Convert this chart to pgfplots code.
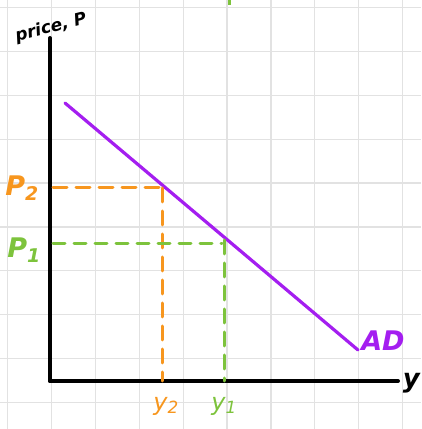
\documentclass[border=0pt]{standalone}
\usepackage{pgfplots}
\pgfplotsset{compat=1.18}
\usepackage{fontspec}
\setmainfont{DejaVu Sans}
\definecolor{adpurple}{HTML}{A41EF0}
\definecolor{ordash}{HTML}{F7961E}
\definecolor{grdash}{HTML}{7DC33C}
\definecolor{gridgray}{HTML}{E2E2E2}
\begin{document}
\begin{tikzpicture}
\begin{axis}[
  scale only axis, width=421pt, height=429pt,
  xmin=0, xmax=421, ymin=0, ymax=429,
  axis line style={draw=none},
  xtick={7.5,51.4,95.3,139.2,183.1,227,270.9,314.8,358.7,402.6},
  ytick={26.4,70.3,114.2,158.1,202,245.9,289.8,333.7,377.6,421.5},
  xticklabels={}, yticklabels={},
  major tick length=0pt,
  grid=major, grid style={gridgray, line width=1.2pt},
  clip=false,
]
% axes
\addplot[black, line width=4pt, line cap=round] coordinates {(50,391) (50,48)};
\addplot[black, line width=4pt, line cap=round] coordinates {(50,48) (398,48)};
% AD curve
\addplot[adpurple, line width=3.2pt, line cap=round] coordinates {(65,326) (358,79)};
% orange
\addplot[ordash, line width=3pt, line cap=round, dash pattern=on 14pt off 9pt] coordinates {(53,241) (163,241)};
\addplot[ordash, line width=3pt, line cap=round, dash pattern=on 14pt off 9pt] coordinates {(162,241) (162,48)};
% green
\addplot[grdash, line width=3pt, line cap=round, dash pattern=on 12pt off 9pt] coordinates {(53,185) (222,185)};
\addplot[grdash, line width=3pt, line cap=round, dash pattern=on 14pt off 9pt] coordinates {(224,189) (224,48)};
\addplot[grdash, line width=3pt] coordinates {(229,429) (229,424)};
% labels
\node[rotate=14, font=\fontsize{17}{17}\selectfont\bfseries\itshape] at (axis cs:51,401) {price, P};
\node[ordash, font=\fontsize{27}{27}\selectfont\bfseries\itshape] at (axis cs:22,241) {P\textsubscript{2}};
\node[grdash, font=\fontsize{27}{27}\selectfont\bfseries\itshape] at (axis cs:24,179) {P\textsubscript{1}};
\node[ordash, font=\fontsize{24}{24}\selectfont\itshape] at (axis cs:166,23) {y\textsubscript{2}};
\node[grdash, font=\fontsize{24}{24}\selectfont\itshape] at (axis cs:224,23) {y\textsubscript{1}};
\node[adpurple, font=\fontsize{27}{27}\selectfont\bfseries\itshape] at (axis cs:383,88) {AD};
\node[black, anchor=east, inner sep=1pt, font=\fontsize{26}{26}\selectfont\bfseries\itshape] at (axis cs:421,46) {y};
\end{axis}
\pgfresetboundingbox
\path[use as bounding box] (0,0) rectangle (421pt,429pt);
\end{tikzpicture}
\end{document}
